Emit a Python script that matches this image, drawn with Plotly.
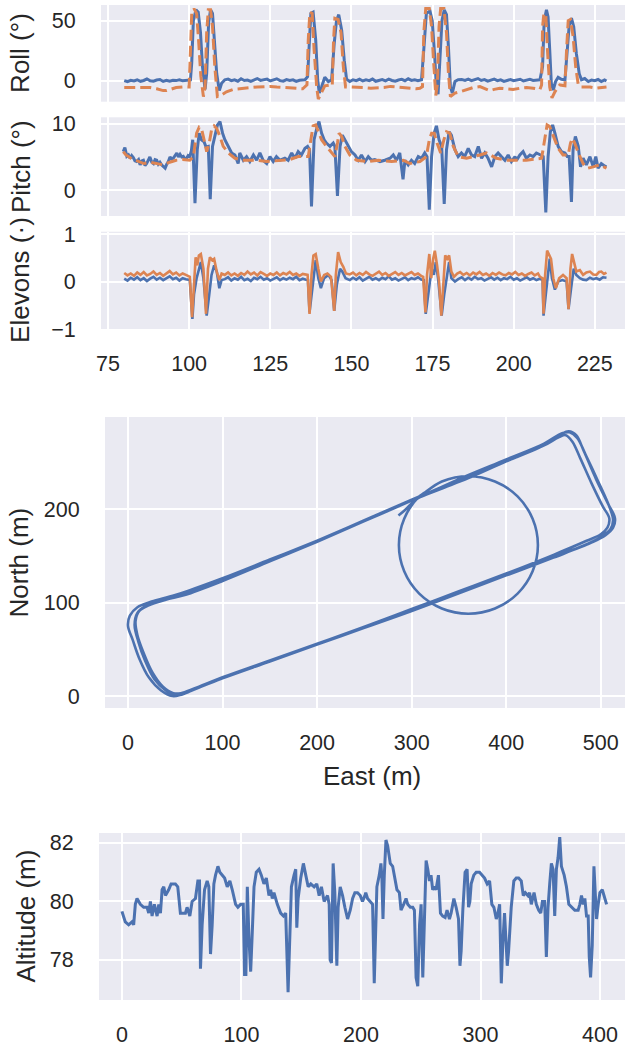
import plotly.graph_objects as go

# ---------------- data ----------------
roll_meas = [
    (80, 0.3), (81, -0.5), (82, 0.6), (83, 0.0), (84, 1.0), (85, -0.3), (86, 0.4), (87, 1.6), (88, 0.2), (89, -0.2),
    (90, 0.8), (91, 1.2), (92, -0.4), (93, 0.5), (94, -0.2), (95, 0.6), (96, 0.3), (97, 0.9), (98, 0.1), (99, 0.4),
    (100, 0.6), (100.4, 0.8), (100.8, 15), (101.3, 50), (102.1, 59), (102.8, 57), (103.5, 40), (104.1, 12), (104.9, -7),
    (105.4, 6), (106, 48), (106.6, 59), (107.2, 56), (107.8, 34), (108.5, 6), (109.3, -8), (110, -2), (111, 1),
    (112, 1.5), (113, 0.3), (114, 1.0), (115, -0.2), (116, 1.8), (117, 0.4), (118, 0.8), (119, -0.3), (120, 1.2),
    (121, 2.0), (122, 0.5), (123, 0.9), (124, 1.5), (125, 0.0), (126, 0.7), (127, 1.8), (128, 0.3), (129, -0.2),
    (130, 1.1), (131, 0.4), (132, 0.9), (133, -0.4), (134, 0.6), (135, 1.0), (135.7, 1.0), (136.5, 3.6),
    (137, 34), (137.5, 56), (138.2, 57), (139, 34), (139.6, 1), (140.1, -10), (140.8, -5), (141.8, 3), (142.9, -0.5),
    (143.9, 1), (144.7, 31), (145.4, 50), (146.1, 55), (147, 42), (147.8, 17), (148.5, 1.4), (149.5, -0.5),
    (150.5, 1.0), (151.5, 0.3), (152.5, 1.4), (153.5, 0.0), (154.5, 0.9), (155.5, 0.3), (156.5, 1.6), (157.5, -0.3),
    (158.5, 0.6), (159.5, 1.2), (160.5, 0.1), (161.5, 1.5), (162.5, 0.4), (163.5, -0.2), (164.5, 0.8), (165.5, 1.3),
    (166.5, 0.2), (167.5, 1.8), (168.5, 0.5), (169.5, 1.0), (170.5, 0.3), (171.6, 1.0),
    (172.3, 26), (173.1, 56), (174.2, 58), (174.9, 50), (175.6, 23), (176.2, -5), (176.7, -11), (177.2, 12),
    (177.9, 50), (178.6, 59), (179.3, 55), (179.9, 28), (180.5, -5), (181.1, -10), (181.9, -0.5), (182.9, 1),
    (184, 1.2), (185, 0.5), (186, 1.6), (187, 0.3), (188, 1.0), (189, 2.0), (190, 0.4), (191, 1.1), (192, -0.2),
    (193, 0.8), (194, 1.5), (195, 0.3), (196, 0.9), (197, -0.3), (198, 0.6), (199, 1.2), (200, 0.2), (201, 0.9),
    (202, 1.4), (203, 0.0), (204, 0.7), (205, 1.3), (206, 0.4), (207, 0.9), (208.1, 1.0),
    (208.9, 12), (209.4, 50), (210.1, 59), (210.6, 53), (211.1, 26), (211.6, -2), (212.2, -7.5), (212.9, -0.5),
    (213.7, 3), (214.7, 1.4), (215.8, 1), (216.5, 23), (217.1, 46), (217.8, 52), (218.5, 45), (219.3, 23),
    (220.2, 6), (220.9, 1), (221.9, 2), (223, -0.5), (224, 0.8), (225, 0.2), (226, 1.2), (227, -0.5), (228, 0.9),
    (228.6, 0),
]

roll_cmd = [
    (80, -5.5), (82, -5.5), (84, -5.0), (86, -5.0), (88, -5.5), (90, -6.5), (92, -8.0), (93, -8.0), (94, -7.0),
    (96, -5.5), (98, -5.0), (100, -5.0),
    (100.4, 25), (100.8, 56), (101.5, 60), (102.3, 56), (102.9, 34), (103.6, 4), (104.4, -13), (104.9, -5),
    (105.4, 40), (105.9, 59), (106.6, 59), (107.2, 45), (107.9, 12), (108.7, -13), (109.5, -12.4), (111.5, -9),
    (113.6, -7), (115, -6.5), (117, -6), (119, -5.5), (121, -5), (123, -4.5), (125, -4.5), (127, -5), (129, -5.5),
    (131, -6), (133, -6.5), (135, -6.5), (136.3, -3.3),
    (136.7, 34), (137.2, 57), (137.9, 56), (138.5, 26), (139.3, -5), (139.8, -15), (140.8, -9), (141.8, -4),
    (143.4, -3.3), (144.1, -4), (144.5, 34), (144.9, 52), (145.9, 51), (146.8, 40), (147.5, 12), (148.2, -5),
    (150, -5), (152, -5), (154, -5.5), (156, -6), (158, -6), (160, -5.5), (162, -4.5), (164, -5), (166, -6),
    (168, -6.5), (170, -6.5), (171.1, -6), (171.9, -4.7),
    (172.3, 40), (172.9, 60), (174, 60), (174.7, 45), (175.4, 12), (176, -12), (176.5, -2), (177, 45), (177.5, 60),
    (178.5, 60), (179.3, 40), (179.9, 6), (180.5, -13), (181.9, -10), (183.4, -9), (185.5, -7), (187.5, -5.5),
    (189.6, -4.7), (191, -6), (192.6, -8), (194, -7), (195.7, -6), (197.5, -6.5), (199.8, -7), (202, -6),
    (204, -5.5), (206, -6), (208.1, -7), (208.6, -3.3),
    (208.9, 45), (209.3, 56), (209.9, 55), (210.4, 26), (211.1, -5), (211.8, -14), (212.7, -9), (214.2, -3.3),
    (215.8, -4), (216.3, 26), (216.8, 50), (217.5, 51), (218.3, 37), (219.1, 12), (219.9, -3.3), (220.9, -5),
    (223.5, -5), (225.5, -6), (228.6, -5),
]

pitch_meas = [
    (79.7, 5.8), (80.2, 6.4), (80.8, 5.1), (81.3, 5.3), (81.8, 4.8), (82.3, 5.2), (82.8, 4.9), (83.3, 4.4), (83.8, 4.3),
    (84.4, 4.6), (84.9, 3.8), (85.4, 4.4), (85.9, 4.5), (86.4, 3.7), (86.9, 4.0), (87.4, 4.6), (87.9, 5.0), (88.5, 4.2),
    (89, 4.0), (89.5, 4.6), (90, 4.5), (90.5, 3.9), (91, 4.2), (91.5, 3.8), (92, 3.5), (92.6, 3.3), (93.1, 3.9),
    (93.6, 4.3), (94.1, 5.0), (94.6, 4.7), (95.1, 4.8), (95.7, 5.2), (96.2, 5.6), (96.7, 5.0), (97.2, 5.4), (97.7, 5.0),
    (98.2, 5.1), (98.7, 4.7), (99.2, 4.8), (99.7, 5.2), (100.2, 5.05), (100.7, 6.0), (101.1, 7.6), (101.8, -2.0),
    (102.5, 6.1), (103.1, 8.6), (103.8, 7.6), (104.6, 7.3), (105.2, 6.5), (105.9, 6.6), (106.5, -1.4), (107.2, 6.6),
    (108, 8.6), (108.7, 9.8), (109.5, 10.35), (110.3, 8.6), (111, 7.6), (112.1, 6.6), (113.1, 5.6), (114.1, 5.3),
    (115.1, 4.0), (115.6, 5.6), (116.7, 4.5), (117.7, 5.05), (118.7, 4.3), (119.8, 5.3), (120.8, 4.5), (121.8, 5.6),
    (122.8, 4.5), (123.9, 4.0), (124.9, 5.05), (125.9, 4.3), (126.9, 5.05), (128, 4.5), (129.5, 4.8), (130.5, 4.5),
    (131.6, 5.6), (132.6, 4.8), (133.6, 5.8), (134.6, 5.3), (135.7, 6.3), (136.5, 6.6), (137.1, 6.1), (137.7, -2.5),
    (138.5, 7.6), (139.3, 9.3), (140, 10.35), (140.8, 8.6), (141.6, 7.6), (142.3, 7.1), (143.4, 6.6), (144.4, 7.1),
    (144.9, 6.6), (145.7, -0.9), (146.5, 6.6), (147.2, 8.3), (148, 7.6), (149, 6.6), (150, 5.8), (151.1, 5.3),
    (152.1, 4.5), (153.1, 5.3), (154.2, 4.3), (155.2, 5.05), (156.2, 4.5), (157.2, 4.6), (158.8, 4.3), (160.3, 4.5),
    (161.9, 4.8), (162.9, 5.3), (163.9, 4.5), (164.9, 5.6), (165.9, 1.6), (166.5, 4.5), (167.5, 3.8), (168.5, 4.5),
    (169.5, 4.0), (170.6, 5.05), (171.6, 4.8), (172.6, 5.6), (173.3, 5.05), (174, -3.0), (174.7, 5.05), (175.5, 8.6),
    (176.2, 9.7), (177, 7.6), (177.8, 6.6), (178.6, -2.1), (179.3, 6.1), (180.1, 8.8), (180.8, 8.3), (181.9, 6.1),
    (182.9, 5.05), (183.9, 5.6), (184.9, 5.05), (186, 6.3), (187, 5.3), (188, 5.05), (189.1, 6.6), (190.1, 4.8),
    (191.1, 5.6), (192.1, 4.8), (193.2, 3.5), (194.2, 5.05), (195.2, 5.6), (196.2, 5.05), (197.3, 4.5), (198.3, 5.3),
    (199.3, 4.3), (200.4, 5.05), (200.9, 4.5), (201.9, 5.3), (202.9, 5.8), (203.9, 4.8), (205, 5.3), (206, 5.05),
    (207, 5.6), (208.3, 5.3), (209.1, 5.05), (209.9, -3.4), (210.6, 5.05), (211.3, 8.8), (212, 9.85), (212.7, 8.6),
    (213.7, 6.6), (214.7, 5.8), (215.8, 5.6), (216.5, 5.05), (217.1, 5.05), (217.8, -1.8), (218.3, 6.1), (219, 8.1),
    (219.9, 6.6), (220.6, 3.5), (221.4, 4.8), (222.4, 3.8), (223.5, 5.05), (224.5, 3.5), (225.3, 5.05), (226, 3.3),
    (227, 4.0), (228.1, 3.6), (228.6, 3.5),
]

pitch_cmd = [
    (79.7, 5.8), (80.5, 5.3), (81.5, 5.0), (82.5, 4.6), (84, 4.4), (86, 4.0), (88, 4.2), (90, 4.0), (92, 3.8), (94, 4.2),
    (96, 4.5), (98, 4.6), (100.2, 4.5), (101.3, 5.0), (102.3, 8.6), (103.1, 9.5), (103.8, 9.3), (104.6, 7.6),
    (105.4, 5.8), (106.2, 7.1), (106.9, 9.1), (107.7, 9.7), (108.5, 9.3), (109.5, 8.1), (110.5, 6.6), (112.1, 5.6),
    (114.1, 4.8), (116.7, 4.5), (120.8, 4.5), (123.9, 4.3), (128, 4.5), (131, 4.6), (133.6, 5.05), (136.7, 5.05),
    (137.5, 7.6), (138.2, 9.7), (139, 9.85), (139.8, 8.8), (140.8, 7.6), (142.3, 6.6), (143.9, 5.6), (144.9, 5.05),
    (145.7, 7.1), (146.2, 8.6), (147, 8.1), (148, 6.6), (149.5, 5.3), (151.6, 4.5), (155.2, 4.3), (158.3, 4.5),
    (162.4, 4.3), (166, 4.5), (168, 4.0), (171.1, 4.3), (173.1, 5.05), (174, 7.6), (174.7, 8.6), (175.5, 8.6),
    (176.4, 7.1), (177.5, 5.6), (178.5, 7.6), (179.3, 8.8), (180.3, 8.6), (181.4, 6.6), (182.9, 5.05), (185.5, 4.8),
    (189.6, 5.3), (191.6, 5.6), (194.7, 4.8), (197.8, 4.5), (200.4, 4.5), (203.9, 4.5), (208.6, 4.8), (209.6, 7.6),
    (210.3, 9.85), (211.1, 9.6), (212.2, 8.1), (213.7, 6.3), (215.2, 5.3), (216.8, 5.3), (217.5, 7.1), (218.1, 7.8),
    (218.8, 7.1), (219.9, 5.6), (221.4, 4.0), (222.9, 3.3), (224.5, 3.5), (226.5, 3.8), (228.6, 3.3),
]

elevon_1 = [
    (80, 0.06), (81, 0.02), (82, 0.08), (83, 0.04), (84, 0.09), (85, 0.03), (86, 0.07), (87, 0.01), (88, 0.06),
    (89, 0.1), (90, 0.04), (91, 0.08), (92, 0.03), (93, 0.07), (94, 0.11), (95, 0.05), (96, 0.08), (97, 0.02),
    (98, 0.07), (99, 0.05), (100.2, 0.03),
    (101, -0.79), (101.5, -0.27), (102.3, 0.07), (103, 0.27), (103.6, 0.41), (104.4, 0.07), (105.4, -0.72),
    (106.2, -0.27), (106.9, 0.14), (107.7, 0.34), (108.5, 0.21), (109.3, -0.14), (110, 0.03), (111, 0.05),
    (112, 0.09), (113, 0.02), (114, 0.07), (115, 0.04), (116, 0.1), (117, 0.03), (118, 0.06), (119, 0.01), (120, 0.08),
    (121, 0.05), (122, 0.1), (123, 0.04), (124, 0.07), (125, 0.02), (126, 0.06), (127, 0.09), (128, 0.03), (129, 0.07),
    (130, 0.04), (131, 0.08), (132, 0.05), (133, 0.1), (134, 0.03), (135, 0.06), (136, 0.04), (136.6, 0.03),
    (137.1, -0.65), (137.9, -0.14), (139, 0.45), (139.8, 0.07), (140.6, -0.14), (141.6, 0.07), (142.9, 0.14),
    (143.9, 0.03), (144.7, -0.62), (145.5, -0.07), (146.5, 0.27), (147.2, 0.21), (148.2, 0.07), (149.5, 0.03),
    (150.5, 0.08), (151.5, 0.04), (152.5, 0.09), (153.5, 0.02), (154.5, 0.06), (155.5, 0.1), (156.5, 0.04),
    (157.5, 0.07), (158.5, 0.03), (159.5, 0.08), (160.5, 0.05), (161.5, 0.11), (162.5, 0.04), (163.5, 0.07),
    (164.5, 0.02), (165.5, 0.06), (166.5, 0.09), (167.5, 0.03), (168.5, 0.07), (169.5, 0.05), (170.5, 0.09),
    (171.5, 0.04), (172.3, 0.03),
    (172.9, -0.68), (173.7, -0.2), (174.7, 0.27), (175.4, 0.14), (176, 0.41), (176.7, 0.07), (177.8, -0.72),
    (178.6, -0.27), (179.5, 0.21), (180.1, 0.41), (180.8, 0.07), (181.9, 0.0), (182.9, 0.05),
    (184, 0.09), (185, 0.03), (186, 0.08), (187, 0.04), (188, 0.1), (189, 0.05), (190, 0.07), (191, 0.02), (192, 0.06),
    (193, 0.09), (194, 0.04), (195, 0.08), (196, 0.03), (197, 0.07), (198, 0.05), (199, 0.1), (200, 0.04), (201, 0.07),
    (202, 0.02), (203, 0.06), (204, 0.09), (205, 0.04), (206, 0.07), (207, 0.03), (208, 0.06), (208.9, 0.03),
    (209.2, -0.72), (209.9, -0.27), (210.6, 0.27), (211.1, 0.48), (211.8, 0.07), (212.7, -0.17), (213.7, 0.0),
    (215, 0.03), (216.3, 0.0), (216.9, -0.58), (217.7, -0.14), (218.5, 0.27), (219.3, 0.14), (220.4, 0.07),
    (221.4, 0.04), (222.4, 0.03), (223.5, 0.08), (224.5, 0.05), (225.5, 0.07), (226.5, 0.04), (227.5, 0.09),
    (228.6, 0.08),
]

elevon_2 = [
    (80, 0.18), (81, 0.13), (82, 0.17), (83, 0.12), (84, 0.19), (85, 0.14), (86, 0.2), (87, 0.13), (88, 0.16),
    (89, 0.21), (90, 0.14), (91, 0.18), (92, 0.12), (93, 0.17), (94, 0.22), (95, 0.15), (96, 0.19), (97, 0.13),
    (98, 0.17), (99, 0.14), (100.2, 0.1),
    (100.9, -0.75), (101.3, -0.27), (102, 0.51), (102.5, 0.34), (103, 0.55), (103.6, 0.58), (104.4, 0.27),
    (105.2, -0.68), (105.8, 0.27), (106.4, 0.51), (107.1, 0.45), (107.7, 0.48), (108.5, 0.21), (109.3, 0.03),
    (110, 0.17), (111, 0.14),
    (112, 0.19), (113, 0.13), (114, 0.17), (115, 0.12), (116, 0.18), (117, 0.14), (118, 0.21), (119, 0.15), (120, 0.19),
    (121, 0.13), (122, 0.2), (123, 0.16), (124, 0.12), (125, 0.17), (126, 0.14), (127, 0.19), (128, 0.13), (129, 0.18),
    (130, 0.15), (131, 0.2), (132, 0.14), (133, 0.17), (134, 0.12), (135, 0.16), (136.5, 0.14),
    (137.1, -0.68), (137.7, 0.14), (138.3, 0.55), (139, 0.58), (139.8, 0.27), (140.6, 0.0), (141.6, 0.14),
    (142.6, 0.17), (143.7, 0.1), (144.7, -0.62), (145.2, 0.14), (145.9, 0.62), (146.7, 0.41), (147.5, 0.31),
    (148.3, 0.17), (149.5, 0.15),
    (150.5, 0.19), (151.5, 0.13), (152.5, 0.18), (153.5, 0.14), (154.5, 0.2), (155.5, 0.15), (156.5, 0.12),
    (157.5, 0.17), (158.5, 0.21), (159.5, 0.14), (160.5, 0.18), (161.5, 0.12), (162.5, 0.16), (163.5, 0.2),
    (164.5, 0.14), (165.5, 0.18), (166.5, 0.13), (167.5, 0.17), (168.5, 0.2), (169.5, 0.14), (170.5, 0.17),
    (171.5, 0.12), (172.1, 0.1),
    (172.8, -0.65), (173.3, 0.14), (174, 0.58), (174.6, 0.07), (175.2, 0.48), (175.7, 0.65), (176.4, 0.34), (177, 0.0),
    (177.7, -0.72), (178.3, 0.0), (178.9, 0.55), (179.5, 0.48), (180.1, 0.55), (180.8, 0.21), (181.6, 0.1),
    (182.6, 0.17),
    (183.5, 0.2), (184.5, 0.14), (185.5, 0.18), (186.5, 0.13), (187.5, 0.19), (188.5, 0.15), (189.5, 0.2),
    (190.5, 0.14), (191.5, 0.17), (192.5, 0.12), (193.5, 0.18), (194.5, 0.14), (195.5, 0.19), (196.5, 0.15),
    (197.5, 0.13), (198.5, 0.18), (199.5, 0.15), (200.5, 0.2), (201.5, 0.14), (202.5, 0.17), (203.5, 0.12),
    (204.5, 0.16), (205.5, 0.19), (206.5, 0.13), (207.5, 0.17), (208.1, 0.1), (208.9, 0.07),
    (209.2, -0.68), (209.7, 0.14), (210.3, 0.65), (210.9, 0.55), (211.5, 0.48), (212.2, 0.07), (213, -0.14),
    (214, 0.07), (215.2, 0.14), (216.3, 0.07), (216.9, -0.58), (217.5, 0.27), (218, 0.58), (218.6, 0.41),
    (219.3, 0.21), (220.4, 0.24), (221.4, 0.14), (222.4, 0.19), (223.5, 0.21), (224.5, 0.15), (225.5, 0.14),
    (226.3, 0.2), (227, 0.21), (227.8, 0.16), (228.6, 0.19),
]

# flight path (East, North) in metres
track = [
    (286, 193), (293, 199), (300, 206), (306, 211),
    (330, 221), (360, 233), (400, 251), (440, 268), (458, 280),
    (466, 283), (474, 279), (482, 262), (495, 232), (508, 205), (515, 190), (513, 180), (505, 172), (490, 164),
    (450, 148), (400, 129), (350, 110), (300, 91), (250, 73), (200, 55), (150, 37), (100, 19), (70, 7), (55, 1),
    (47, 0), (35, 6), (22, 20), (12, 40), (5, 60), (0, 75), (2, 86), (10, 95), (25, 101),
    (50, 108), (100, 126), (150, 146), (200, 166), (250, 187), (300, 210),
    (350, 230), (400, 251), (440, 268), (456, 277),
    (463, 279), (470, 272), (478, 255), (490, 228), (502, 203), (509, 190), (507, 180), (500, 173), (485, 166),
    (450, 151), (400, 131), (350, 112), (300, 93), (250, 74), (200, 56), (150, 38), (100, 20), (70, 8), (56, 3),
    (48, 3), (37, 10), (26, 25), (17, 45), (10, 65), (8, 80), (12, 91), (22, 97), (40, 103),
    (60, 108), (100, 123), (150, 144), (200, 165), (250, 187), (300, 209),
    (350, 232), (400, 253), (440, 270), (459, 281),
    (467, 282), (475, 276), (484, 258), (497, 230), (510, 200), (513, 188), (510, 178), (500, 170), (482, 161),
    (450, 149), (400, 130), (350, 111), (300, 92), (250, 74), (200, 55), (150, 37), (100, 19), (72, 8), (58, 2),
    (50, 1), (40, 6), (28, 18), (18, 38), (11, 58), (7, 76), (10, 89), (18, 96), (35, 103),
    (70, 113), (100, 124), (150, 145), (200, 166), (250, 188), (300, 210),
    (308, 213.5), (331.9, 229.4), (360, 235), (388.1, 229.4), (412, 213.5), (427.9, 189.6), (433.5, 161.5),
    (427.9, 133.4), (412, 109.5), (388.1, 93.6), (360, 88), (331.9, 93.6), (308, 109.5), (292.1, 133.4),
    (286.5, 161.5), (292.1, 189.6), (308, 213.5), (318, 220),
]

altitude = [
    (0, 79.66), (1, 79.5), (2.8, 79.3), (5.6, 79.2), (8.4, 79.3), (9.8, 79.2), (11.2, 79.9), (12.6, 80.1), (15.4, 79.9),
    (18.2, 79.8), (21, 79.8), (22.4, 79.6), (23.8, 80.0), (25.2, 79.5), (27.1, 79.9), (29.4, 79.5), (30.8, 79.9),
    (32.2, 79.6), (33.6, 80.4), (35, 80.5), (36.4, 80.2), (39.1, 80.4), (41.1, 80.6), (44.7, 80.6), (46.7, 80.5),
    (48.9, 79.6), (51.2, 79.6), (53.1, 79.6), (54.5, 79.8), (56.8, 79.5), (58.7, 80.0), (61.5, 80.1), (63.5, 80.7),
    (64.9, 80.7), (65.7, 77.7), (67.1, 79.2), (69.1, 80.4), (71.3, 80.7), (72.7, 80.5), (74.1, 78.2), (75.5, 79.2),
    (76.9, 80.6), (78.3, 80.9), (80.3, 81.2), (81.9, 81.0), (83.9, 80.9), (85.9, 80.8), (88.1, 80.5), (90.3, 80.7),
    (92.3, 80.4), (95.1, 79.9), (97, 79.8), (99.3, 79.9), (101.5, 79.9), (102.6, 77.5), (103.7, 77.5), (104.9, 80.5),
    (106.3, 78.7), (107.7, 77.6), (109, 78.9), (110.5, 80.5), (112.4, 81.0), (114.7, 81.1), (116.6, 80.9),
    (118.8, 80.6), (120.8, 80.8), (123, 80.2), (124.4, 80.4), (125.8, 80.1), (127.2, 80.3), (130, 79.9),
    (132.8, 79.6), (135.1, 79.5), (137, 79.6), (139, 76.9), (140.7, 79.1), (141.8, 80.5), (144, 80.9), (145.4, 81.1),
    (146.3, 79.1), (147.4, 80.1), (149.6, 80.8), (151.8, 81.3), (153.8, 80.9), (155.8, 80.5), (158, 80.6),
    (160.8, 80.5), (163, 80.6), (165, 80.2), (166.9, 80.5), (169.2, 80.0), (172, 80.2), (173.4, 79.9), (174.2, 78.0),
    (175.3, 77.9), (176.7, 81.3), (178.1, 80.3), (179.8, 77.8), (180.9, 79.8), (182.6, 80.5), (184.6, 80.2),
    (186.5, 79.8), (188.8, 79.4), (191, 79.7), (193, 80.1), (194.9, 80.3), (197.1, 80.3), (199.4, 80.2),
    (201.3, 80.0), (203.3, 80.2), (204, 80.3), (205.5, 80.1), (207.7, 80.0), (209.7, 79.9), (211.1, 77.2),
    (213.3, 80.5), (215.3, 80.9), (216.7, 81.3), (217.5, 80.8), (218.4, 79.4), (219.5, 80.9), (220.9, 82.1),
    (222.3, 81.9), (224.5, 81.3), (226.5, 81.2), (227.9, 80.9), (230.1, 80.4), (232.1, 80.3), (233.5, 79.7),
    (235.7, 79.9), (237.7, 80.1), (239.1, 79.9), (241.3, 79.8), (243.3, 79.8), (244.7, 79.7), (246.1, 77.4),
    (247.5, 77.1), (249, 79.2), (250.3, 79.9), (251.7, 77.4), (253.1, 79.2), (254.5, 81.4), (255.9, 81.1),
    (257.3, 80.7), (258.6, 80.9), (260, 80.4), (261.4, 80.5), (262.8, 80.4), (264.8, 80.9), (266.5, 79.6),
    (268.4, 79.5), (270.4, 79.45), (272, 79.7), (274, 79.4), (275.4, 79.6), (277.7, 80.1), (279.6, 79.8),
    (281.6, 79.4), (282.8, 77.8), (283.8, 78.3), (285.2, 79.7), (287.1, 81.0), (288.8, 81.1), (290, 79.8),
    (291.1, 80.0), (292.2, 80.6), (294.4, 80.9), (296.4, 81.0), (299.2, 81.0), (301.1, 80.9), (303.4, 80.8),
    (305.6, 80.6), (307.6, 80.7), (309.5, 79.9), (311.2, 79.8), (313.2, 79.4), (314.6, 79.6), (316, 79.9),
    (317.4, 77.2), (318.7, 78.6), (320.1, 79.6), (322.4, 77.8), (323.5, 78.3), (325.7, 79.8), (327.9, 80.7),
    (329.9, 80.8), (331.9, 80.8), (334.1, 80.7), (335.8, 80.2), (337.5, 80.3), (339.7, 80.2), (341.1, 80.3),
    (342.5, 79.9), (344.8, 80.3), (346.7, 79.9), (348.7, 79.7), (350.4, 79.6), (351.8, 80.0), (353.7, 80.0),
    (355.1, 78.1), (356.5, 79.8), (357.9, 80.6), (359.3, 81.3), (360.7, 81.1), (362.1, 79.5), (363.5, 81.1),
    (364.9, 81.5), (366.3, 82.2), (367.7, 81.2), (370, 80.9), (371.9, 80.5), (373.9, 79.9), (376.1, 79.8),
    (378.9, 79.7), (381.7, 79.7), (383.1, 79.9), (384.5, 80.2), (385.9, 79.9), (387.3, 80.1), (388.7, 79.5),
    (390.1, 79.5), (391, 78.1), (392.1, 77.4), (393.5, 78.5), (394.9, 81.2), (395.7, 80.3), (397.1, 79.4),
    (398.5, 79.9), (399.9, 80.3), (401.9, 80.4), (403.6, 80.2), (405.5, 79.9),
]

time_ticks = [75, 100, 125, 150, 175, 200, 225]
roll_ticks = [0, 50]
pitch_ticks = [0, 10]
elevon_ticks = [-1, 0, 1]
east_ticks = [0, 100, 200, 300, 400, 500]
north_ticks = [0, 100, 200]
alt_x_ticks = [0, 100, 200, 300, 400]
alt_y_ticks = [78, 80, 82]

# ---------------- styling ----------------
W, H = 625, 1046
BLUE = "#4C72B0"
ORANGE = "#DD8452"
BG = "#EAEAF2"
TXT = "#262626"
FONT = "Liberation Sans, Arial, DejaVu Sans, sans-serif"
TICK_SIZE = 21.5
TITLE_SIZE = 26


def unzip(pairs):
    return [p[0] for p in pairs], [p[1] for p in pairs]


def py(px):  # pixel from top -> paper fraction
    return 1 - px / H


fig = go.Figure()


def add(pairs, ax, color, width, dash=None, shape="linear"):
    xs, ys = unzip(pairs)
    fig.add_trace(go.Scatter(
        x=xs, y=ys, xaxis="x" + ax, yaxis="y" + ax, mode="lines",
        line=dict(color=color, width=width, dash=dash, shape=shape),
        hoverinfo="skip", showlegend=False))


add(roll_meas, "", BLUE, 3)
add(roll_cmd, "", ORANGE, 3, dash="11px,5px")
add(pitch_meas, "2", BLUE, 3)
add(pitch_cmd, "2", ORANGE, 3, dash="11px,5px")
add(elevon_1, "3", BLUE, 2.6)
add(elevon_2, "3", ORANGE, 2.6)
add(track, "4", BLUE, 2.6, shape="spline")
add(altitude, "5", BLUE, 3)

common = dict(showgrid=True, gridcolor="white", gridwidth=1.7, zeroline=False, showline=False,
              automargin=False, ticks="outside", tickcolor="rgba(0,0,0,0)",
              tickfont=dict(size=TICK_SIZE, color=TXT, family=FONT))
xc = dict(common, ticklen=15)
yc = dict(common, ticklen=20)

top_dom = [101 / W, 1]
layout = dict(
    template="none",
    width=W, height=H, margin=dict(l=0, r=0, t=0, b=0, pad=0, autoexpand=False),
    paper_bgcolor="white", plot_bgcolor=BG, showlegend=False,
    font=dict(family=FONT, color=TXT),
    xaxis=dict(xc, domain=top_dom, anchor="y", range=[72.84, 234.3], tickvals=time_ticks, showticklabels=False),
    yaxis=dict(yc, domain=[py(101.7), py(5)], anchor="x", range=[-17.2, 63.0], tickvals=roll_ticks),
    xaxis2=dict(xc, domain=top_dom, anchor="y2", range=[72.84, 234.3], tickvals=time_ticks, showticklabels=False),
    yaxis2=dict(yc, domain=[py(216), py(117.3)], anchor="x2", range=[-3.94, 11.0], tickvals=pitch_ticks),
    xaxis3=dict(xc, domain=top_dom, anchor="y3", range=[72.84, 234.3], tickvals=time_ticks),
    yaxis3=dict(yc, domain=[py(329), py(231.7)], anchor="x3", range=[-1.0, 1.05], tickvals=elevon_ticks),
    xaxis4=dict(xc, domain=[105 / W, 1], anchor="y4", range=[-24.3, 525.6], tickvals=east_ticks),
    yaxis4=dict(yc, domain=[py(708), py(417)], anchor="x4", range=[-12.8, 298.4], tickvals=north_ticks),
    xaxis5=dict(xc, domain=[99 / W, 1], anchor="y5", range=[-19.2, 420.9], tickvals=alt_x_ticks),
    yaxis5=dict(yc, domain=[py(1000), py(833)], anchor="x5", range=[76.63, 82.34], tickvals=alt_y_ticks),
)
fig.update_layout(**layout)


def ytitle(text, xpx, ypx):
    fig.add_annotation(text=text, x=xpx / W, y=py(ypx), xref="paper", yref="paper",
                       textangle=-90, showarrow=False, xanchor="center", yanchor="middle",
                       font=dict(size=TITLE_SIZE, color=TXT, family=FONT))


ytitle("Roll (°)", 20.5, 53.4)
ytitle("Pitch (°)", 20.5, 166.6)
ytitle("Elevons (·)", 20.5, 280.4)
ytitle("North (m)", 18, 562.5)
ytitle("Altitude (m)", 25, 916.5)
fig.add_annotation(text="East (m)", x=372 / W, y=py(776), xref="paper", yref="paper",
                   showarrow=False, xanchor="center", yanchor="middle",
                   font=dict(size=TITLE_SIZE, color=TXT, family=FONT))

fig.write_html("out.html")
